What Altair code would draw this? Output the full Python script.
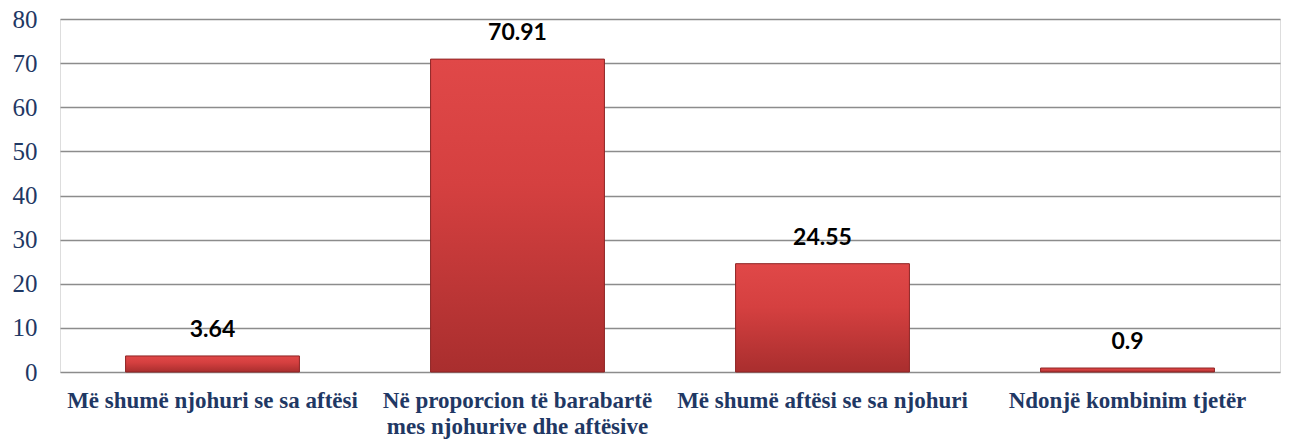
import altair as alt
import pandas as pd

categories = [
    "Më shumë njohuri se sa aftësi",
    "Në proporcion të barabartë mes njohurive dhe aftësive",
    "Më shumë aftësi se sa njohuri",
    "Ndonjë kombinim tjetër",
]
values = [3.64, 70.91, 24.55, 0.9]
labels = ["3.64", "70.91", "24.55", "0.9"]

df = pd.DataFrame({"cat": categories, "val": values, "lab": labels})

SERIF = "Times New Roman, Liberation Serif, serif"

x = alt.X(
    "cat:N",
    sort=categories,
    title=None,
    scale=alt.Scale(paddingInner=0.43, paddingOuter=0.215),
    axis=alt.Axis(
        labelAngle=0,
        labelFont=SERIF,
        labelFontWeight="bold",
        labelFontSize=23,
        labelColor="#1F3864",
        labelPadding=17,
        labelLimit=400,
        labelLineHeight=26,
        ticks=False,
        domain=False,
        grid=False,
        labelExpr="datum.label == 'Në proporcion të barabartë mes njohurive dhe aftësive' ? ['Në proporcion të barabartë', 'mes njohurive dhe aftësive'] : datum.label",
    ),
)

y = alt.Y(
    "val:Q",
    title=None,
    scale=alt.Scale(domain=[0, 80], nice=False),
    axis=alt.Axis(
        values=[0, 10, 20, 30, 40, 50, 60, 70, 80],
        labelFont=SERIF,
        labelFontSize=25,
        labelColor="#1F3864",
        labelPadding=23,
        ticks=False,
        domain=False,
        grid=True,
        gridColor="#8C8C8C",
        gridWidth=1.5,
    ),
)

bars = alt.Chart(df).mark_bar(
    color=alt.Gradient(
        gradient="linear",
        x1=0, x2=0, y1=0, y2=1,
        stops=[
            alt.GradientStop(color="#E04848", offset=0),
            alt.GradientStop(color="#D54040", offset=0.4),
            alt.GradientStop(color="#A92E2E", offset=1),
        ],
    ),
    stroke="#8E2424",
    strokeWidth=1,
).encode(x=x, y=y)

text = alt.Chart(df).mark_text(
    font="Lato",
    fontWeight="bold",
    fontSize=23,
    color="#000000",
    baseline="alphabetic",
    dy=-19,
).encode(x=alt.X("cat:N", sort=categories), y=alt.Y("val:Q"), text="lab:N")

chart = (
    alt.layer(bars, text)
    .properties(
        width=1220,
        height=353,
        autosize=alt.AutoSizeParams(type="none"),
        padding={"left": 52, "top": 11, "right": 1, "bottom": 69},
    )
    .configure_view(stroke=None)
    .configure(background="white")
)

chart.save("out.html", embed_options={"renderer": "svg", "actions": False})
